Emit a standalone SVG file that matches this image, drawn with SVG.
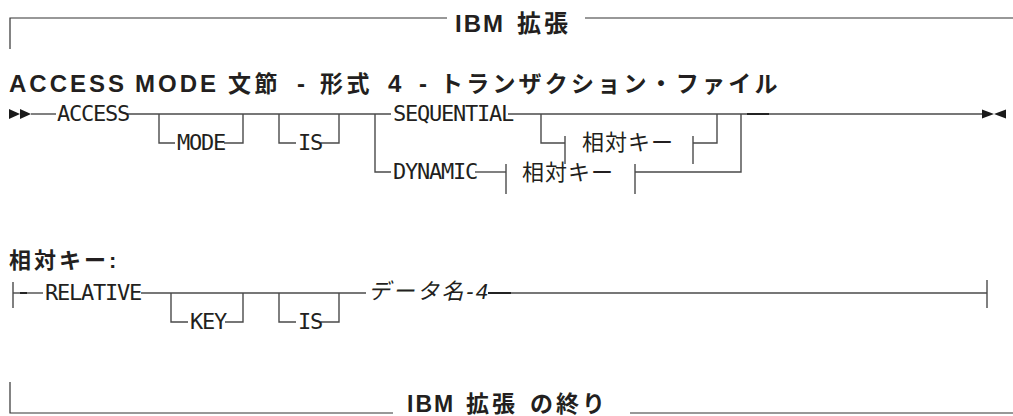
<svg xmlns="http://www.w3.org/2000/svg" width="1013" height="416" viewBox="0 0 1013 416">
<style>
.bg{fill:#ffffff}
.ln{fill:none;stroke:#4a4a4a;stroke-width:1.4}
.fr{fill:none;stroke:#333333;stroke-width:1.2}
.dk{fill:none;stroke:#1a1a1a;stroke-width:1.8}
.ar{fill:#1a1a1a}
.hd{font-family:"Liberation Sans","Noto Sans CJK JP",sans-serif;font-weight:bold;fill:#231f20;letter-spacing:3px}
.cj{letter-spacing:3.5px}
.kw{font-family:"DejaVu Sans Mono","Liberation Mono",monospace;font-size:22px;letter-spacing:-1.25px;fill:#231f20}
.fg{font-family:"Noto Sans CJK JP","Liberation Sans",sans-serif;font-size:22px;fill:#231f20;letter-spacing:1px}
.va{font-family:"Liberation Sans","Noto Sans CJK JP",sans-serif;font-size:22px;font-style:italic;fill:#231f20;letter-spacing:2.5px}
</style>
<rect class="bg" x="0" y="0" width="1013" height="416"/>
<g id="connectors">
<path class="fr" d="M10,49 V18 H447"/>
<path class="fr" d="M585,18 H1013"/>
<path class="fr" d="M10,382 V413 H393"/>
<path class="fr" d="M630,413 H1013"/>
<polygon class="ar" points="9,109 9,119 20,114"/>
<polygon class="ar" points="20,109 20,119 31,114"/>
<path class="ln" d="M31,114 H56"/>
<path class="ln" d="M127,114 H391"/>
<path class="ln" d="M159,114 V143 H175"/>
<path class="ln" d="M224,143 H243 V114"/>
<path class="ln" d="M279,114 V143 H296"/>
<path class="ln" d="M321,143 H339 V114"/>
<path class="ln" d="M375,114 V172 H391"/>
<path class="ln" d="M475,172 H506"/>
<path class="ln" d="M506,164 V194"/>
<path class="ln" d="M635,164 V194"/>
<path class="ln" d="M635,172 H741 V114"/>
<path class="ln" d="M508,114 H982"/>
<path class="ln" d="M541,114 V143 H565"/>
<path class="ln" d="M565,136 V164"/>
<path class="ln" d="M693,136 V164"/>
<path class="ln" d="M693,143 H717 V114"/>
<path class="dk" d="M747,114 H769"/>
<polygon class="ar" points="982,109.5 982,118.5 994,114"/>
<polygon class="ar" points="1006,109.5 1006,118.5 994,114"/>
<path class="ln" d="M13,282 V308"/>
<path class="ln" d="M13,293 H43"/>
<path class="dk" d="M20,293 H27"/>
<path class="ln" d="M141,293 H366"/>
<path class="ln" d="M171,293 V322 H188"/>
<path class="ln" d="M225,322 H243 V293"/>
<path class="ln" d="M279,293 V322 H296"/>
<path class="ln" d="M321,322 H339 V293"/>
<path class="ln" d="M488,293 H987"/>
<path class="dk" d="M488,293 H511"/>
<path class="ln" d="M987,280 V308"/>
</g>
<g id="header"><text class="hd" y="32" font-size="24"><tspan x="455" letter-spacing="2">IBM</tspan><tspan x="517" letter-spacing="3">拡張</tspan></text></g>
<g id="title"><text class="hd" y="92" font-size="24"><tspan x="9">ACCESS</tspan><tspan x="135">MODE</tspan><tspan class="cj" x="228" font-size="23">文節</tspan><tspan x="297">-</tspan><tspan class="cj" x="320" font-size="23">形式</tspan><tspan x="388">4</tspan><tspan x="419">-</tspan><tspan x="440" font-size="23" letter-spacing="3.2">トランザクション・ファイル</tspan></text></g>
<g id="kw-access"><text class="kw" x="57" y="121">ACCESS</text></g>
<g id="kw-mode"><text class="kw" x="177" y="150">MODE</text></g>
<g id="kw-is1"><text class="kw" x="298" y="150">IS</text></g>
<g id="kw-sequential"><text class="kw" x="393" y="121">SEQUENTIAL</text></g>
<g id="kw-dynamic"><text class="kw" x="393" y="179">DYNAMIC</text></g>
<g id="frag-ref1"><text class="fg" x="582" y="150">相対キー</text></g>
<g id="frag-ref2"><text class="fg" x="522" y="180">相対キー</text></g>
<g id="frag-title"><text class="hd" x="9" y="268" font-size="22">相対キー:</text></g>
<g id="kw-relative"><text class="kw" x="45" y="300">RELATIVE</text></g>
<g id="kw-key"><text class="kw" x="190" y="329">KEY</text></g>
<g id="kw-is2"><text class="kw" x="298" y="329">IS</text></g>
<g id="var-data"><text class="va" x="368" y="299">データ名-4</text></g>
<g id="footer"><text class="hd" y="412" font-size="23"><tspan x="407" letter-spacing="2">IBM</tspan><tspan x="466" letter-spacing="3">拡張</tspan><tspan x="530" letter-spacing="3">の終り</tspan></text></g>
</svg>
